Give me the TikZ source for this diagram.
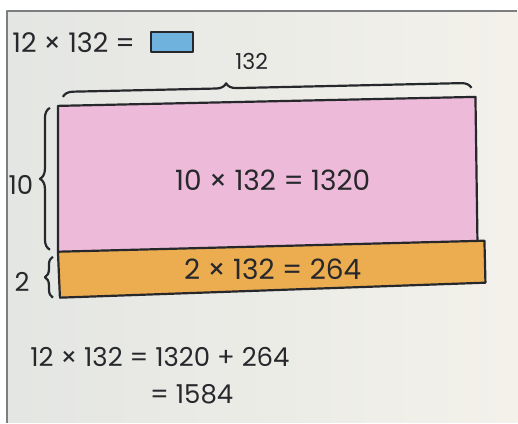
\documentclass[tikz,border=0pt]{standalone}
\usepackage{fontspec}
\usepackage{xcolor}
\usetikzlibrary{decorations.pathreplacing}
\newfontfamily\handfont{Poppins}
\definecolor{paper}{RGB}{228,230,227}
\definecolor{paperlight}{RGB}{243,241,234}
\definecolor{rowpink}{RGB}{238,186,218}
\definecolor{roworange}{RGB}{236,172,80}
\definecolor{boxblue}{RGB}{112,178,222}
\definecolor{ink}{RGB}{38,40,44}

\begin{document}
\begin{tikzpicture}[x=0.5pt,y=-0.5pt, line join=round,
        inkline/.style={draw=ink,line width=1.1pt},
        lbl/.style={font=\handfont\fontsize{13}{15}\selectfont,text=ink,inner sep=0pt},
        bigl/.style={lbl,font=\handfont\fontsize{14}{16}\selectfont},
        brc/.style={inkline,decorate,decoration={brace,amplitude=5pt}}]
        % paper
        \fill[white] (0,0) rectangle (518,423);
        \shade[left color=paper,right color=paperlight] (7,11) rectangle (518,423);
        \draw[ink!60,line width=0.6pt] (7,423) -- (7,11) -- (518,11);
        % the two rows
        \coordinate (pinkNW) at (58,106);
        \coordinate (pinkNE) at (476,97);
        \coordinate (pinkSE) at (478,241);
        \coordinate (midW) at (58,252);
        \coordinate (midE) at (485,241);
        \coordinate (oraSE) at (486,283);
        \coordinate (oraSW) at (60,298);
        \fill[rowpink] (pinkNW) -- (pinkNE) -- (pinkSE) -- (midW) -- cycle;
        \fill[roworange] (midW) -- (midE) -- (oraSE) -- (oraSW) -- cycle;
        \draw[inkline] (midW) -- (pinkNW) -- (pinkNE) -- (pinkSE);
        \draw[inkline] (midW) -- (midE) -- (oraSE) -- (oraSW) -- cycle;
        % texts
        \node[lbl,font=\handfont\fontsize{13.5}{15}\selectfont,anchor=west] (goal) at (12,43) {12 × 132 =};
        \node[draw=ink,line width=1.1pt,fill=boxblue,minimum width=21pt,minimum height=10pt,inner sep=0pt] (answer) at (172,42) {};
        \node[lbl,font=\handfont\fontsize{11}{13}\selectfont] (lenLbl) at (252,62) {132};
        \node[lbl] (tenLbl) at (21,185) {10};
        \node[lbl] (twoLbl) at (22,282) {2};
        \node[bigl] (tenRow) at (273,180) {10 × 132 = 1320};
        \node[bigl] (twoRow) at (273,270) {2 × 132 = 264};
        \node[lbl,anchor=west] (sumLine) at (30,357) {12 × 132 = 1320 + 264};
        \node[lbl,anchor=west] (totLine) at (150,395) {= 1584};
        % braces
        \coordinate (topL) at (63,97);
        \coordinate (topR) at (472,88);
        \coordinate (tenB) at (50,250);
        \coordinate (tenT) at (50,108);
        \coordinate (twoB) at (53,298);
        \coordinate (twoT) at (53,257);
        \draw[brc,decoration={aspect=0.4}] (topL) -- (topR);
        \draw[brc] (tenB) -- (tenT);
        \draw[brc,decoration={amplitude=4pt}] (twoB) -- (twoT);
      \end{tikzpicture}
\end{document}
